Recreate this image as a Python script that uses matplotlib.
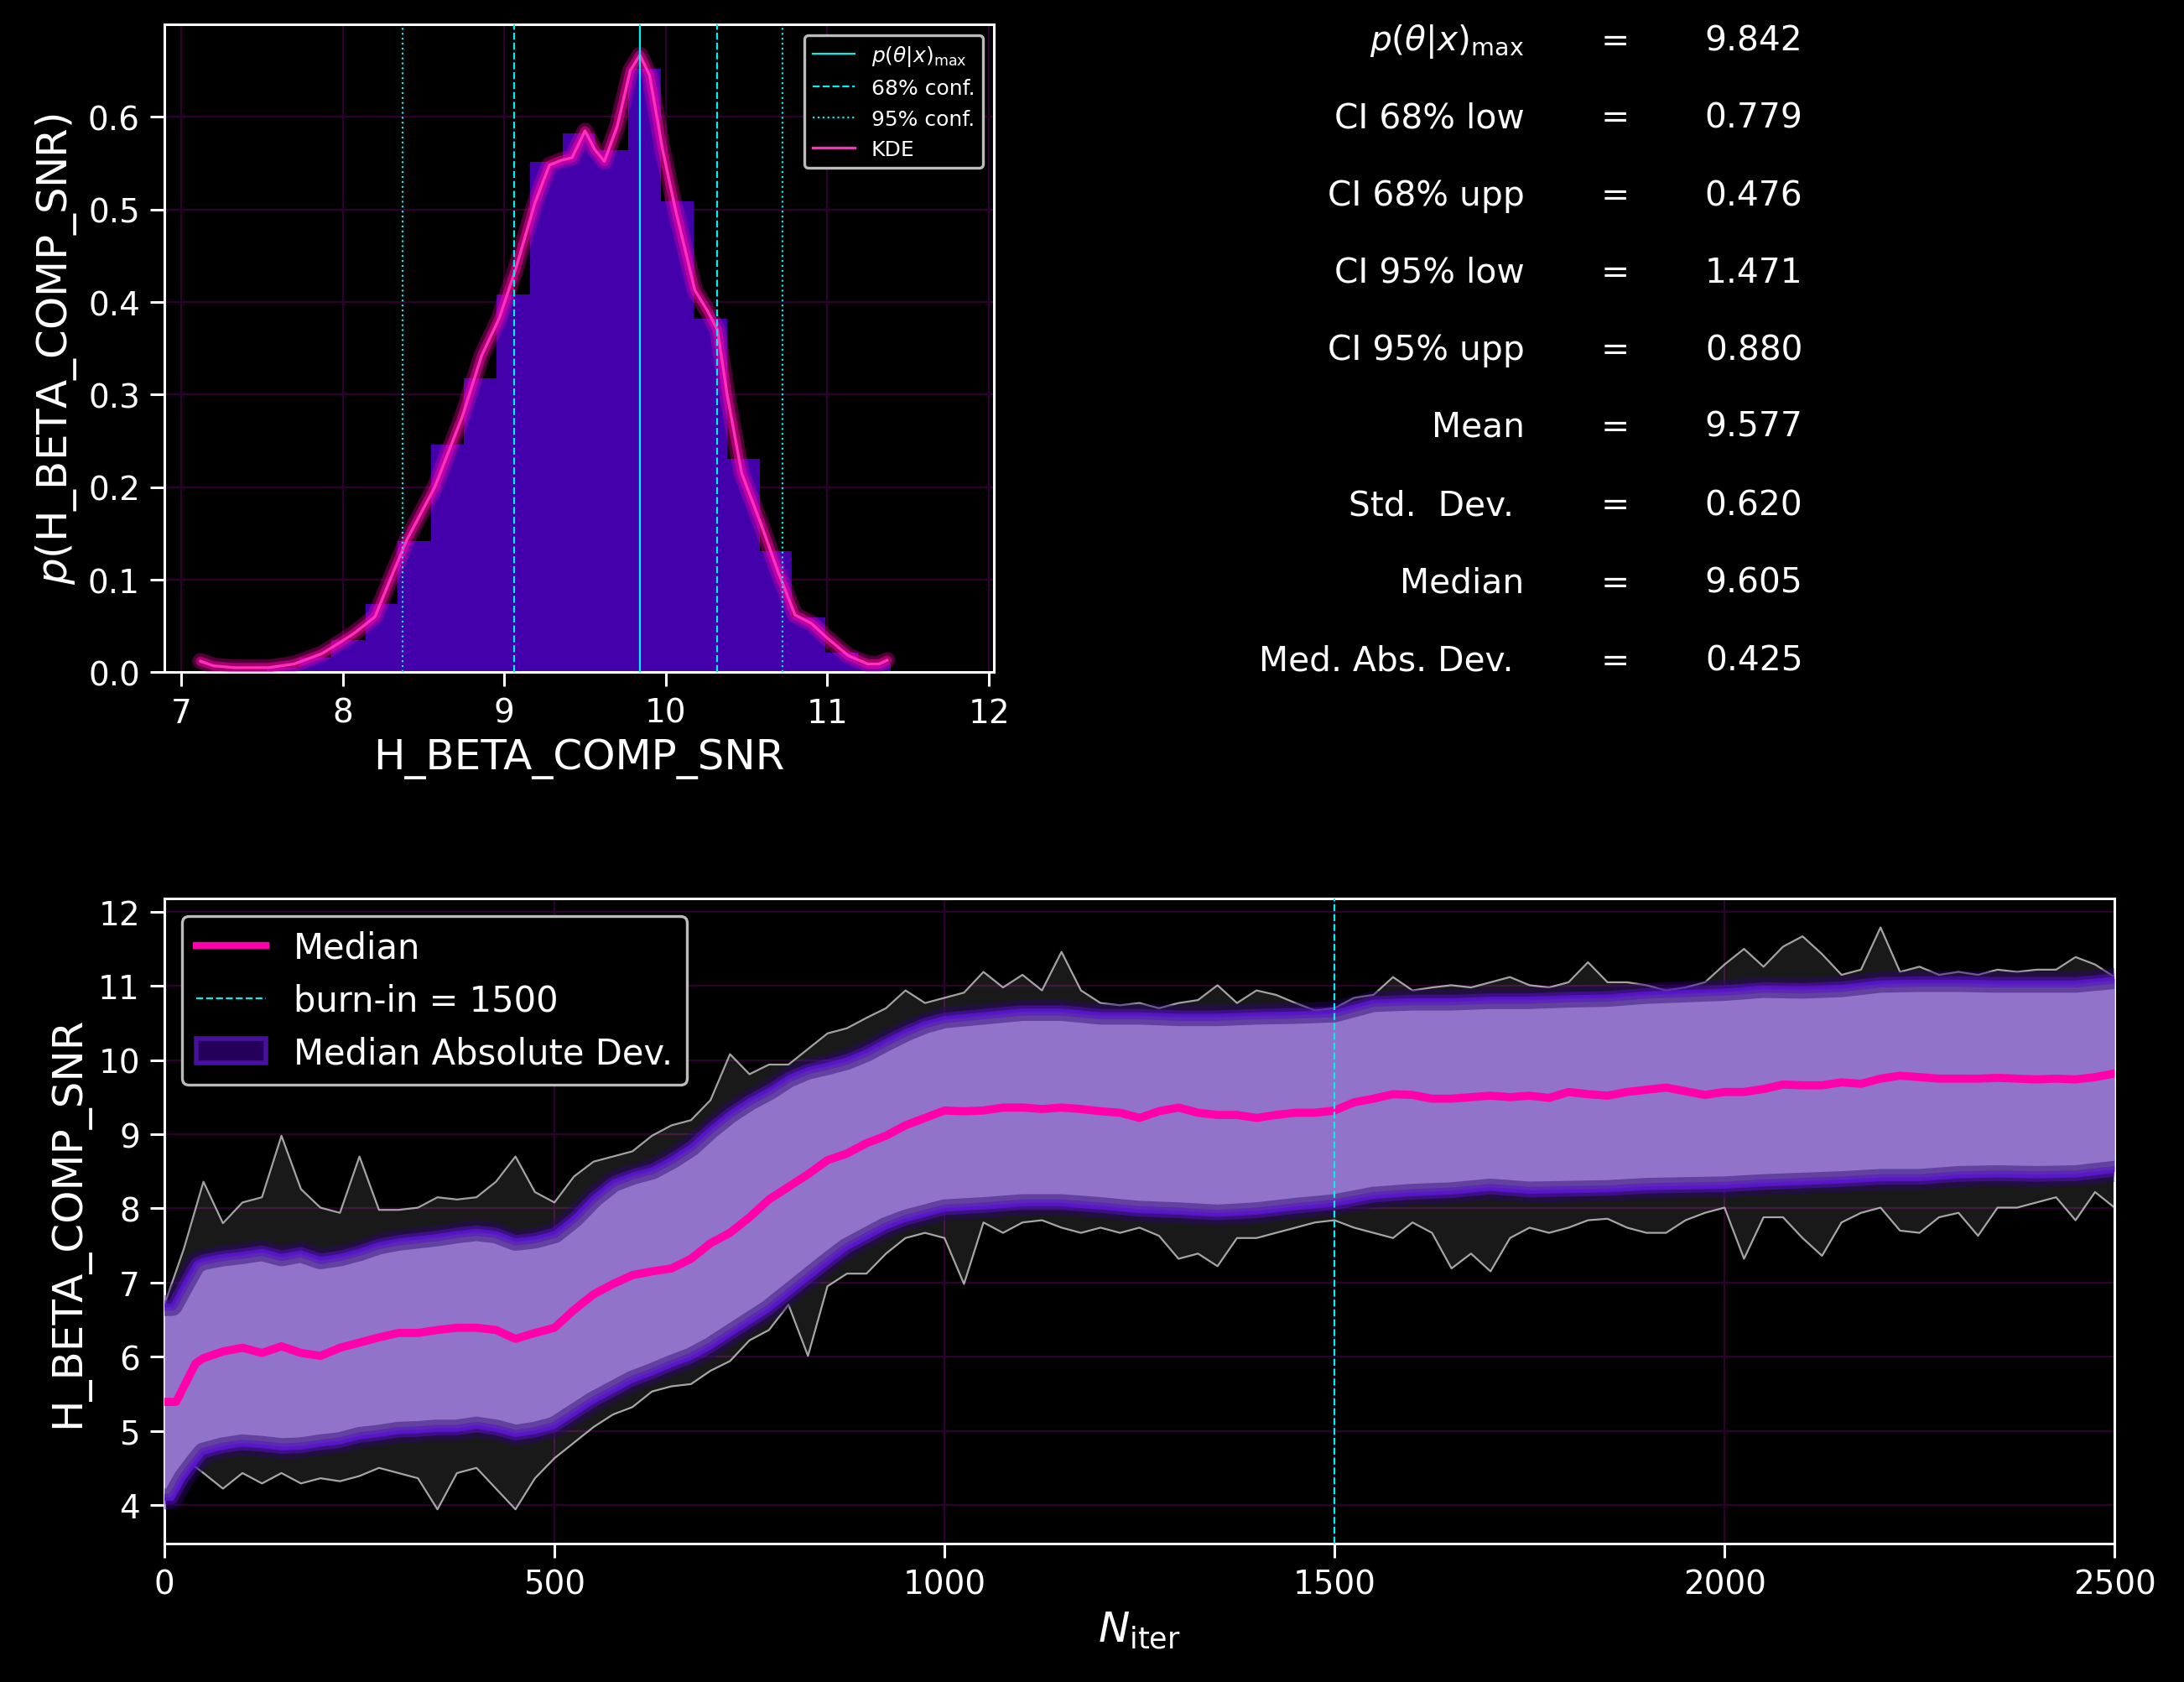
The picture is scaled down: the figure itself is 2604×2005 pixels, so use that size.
import matplotlib.pyplot as plt
from matplotlib.patches import Patch
from matplotlib.lines import Line2D

plt.style.use("dark_background")

param = "H_BETA_COMP_SNR"

# --- top panel: posterior histogram + KDE
hist_edges = [7.12, 7.32, 7.53, 7.73, 7.93, 8.14, 8.34, 8.55, 8.75, 8.95, 9.16, 9.36,
              9.56, 9.77, 9.97, 10.17, 10.38, 10.58, 10.78, 10.99, 11.19, 11.39, 11.60]
hist_heights = [0.001, 0.001, 0.005, 0.016, 0.035, 0.074, 0.142, 0.246, 0.318, 0.408, 0.551,
                0.582, 0.564, 0.652, 0.509, 0.382, 0.231, 0.131, 0.059, 0.021, 0.009, 0.001]

kde_x = [7.12, 7.20, 7.33, 7.54, 7.70, 7.87, 7.99, 8.07, 8.20, 8.32, 8.40, 8.57, 8.74, 8.86,
         8.97, 9.07, 9.19, 9.28, 9.35, 9.42, 9.50, 9.56, 9.62, 9.70, 9.78, 9.84, 9.90, 9.98,
         10.06, 10.18, 10.26, 10.32, 10.38, 10.47, 10.59, 10.69, 10.80, 10.90, 11.00, 11.13,
         11.25, 11.32, 11.37]
kde_y = [0.012, 0.007, 0.005, 0.005, 0.009, 0.020, 0.033, 0.042, 0.060, 0.111, 0.144, 0.200,
         0.276, 0.342, 0.383, 0.435, 0.507, 0.548, 0.553, 0.556, 0.585, 0.565, 0.552, 0.590,
         0.650, 0.667, 0.645, 0.565, 0.500, 0.413, 0.390, 0.370, 0.300, 0.215, 0.160, 0.111,
         0.062, 0.053, 0.037, 0.018, 0.009, 0.009, 0.013]

p_max = 9.842
ci68_low, ci68_upp = 0.779, 0.476
ci95_low, ci95_upp = 1.471, 0.880

stat_names = [r"$p(\theta|x)_{\rm max}$", "CI 68% low", "CI 68% upp", "CI 95% low",
              "CI 95% upp", "Mean", "Std.  Dev. ", "Median", "Med. Abs. Dev. "]
stat_values = [9.842, 0.779, 0.476, 1.471, 0.880, 9.577, 0.620, 9.605, 0.425]

# --- bottom panel: chain traces
burn_in = 1500
med_iter = [0, 15, 25, 40] + list(range(50, 2501, 25))
med_vals = [5.39, 5.39, 5.60, 5.91,
            5.98, 6.07, 6.12, 6.05, 6.14, 6.05, 6.01, 6.12, 6.19, 6.26,
            6.32, 6.32, 6.36, 6.39, 6.39, 6.36, 6.24, 6.32, 6.39, 6.63,
            6.84, 6.98, 7.10, 7.15, 7.19, 7.32, 7.53, 7.67, 7.88, 8.12,
            8.29, 8.46, 8.65, 8.74, 8.88, 8.98, 9.12, 9.22, 9.32, 9.31,
            9.32, 9.36, 9.36, 9.34, 9.36, 9.34, 9.31, 9.29, 9.22, 9.31,
            9.36, 9.29, 9.26, 9.26, 9.22, 9.26, 9.29, 9.29, 9.32, 9.43,
            9.48, 9.54, 9.53, 9.48, 9.48, 9.50, 9.52, 9.50, 9.52, 9.49,
            9.57, 9.54, 9.52, 9.57, 9.60, 9.63, 9.58, 9.53, 9.57, 9.57,
            9.61, 9.67, 9.66, 9.66, 9.70, 9.68, 9.75, 9.79, 9.77, 9.75,
            9.75, 9.75, 9.76, 9.75, 9.74, 9.75, 9.74, 9.77, 9.82]

band_iter = [0, 10, 25, 40] + list(range(50, 1001, 25)) + list(range(1050, 2501, 50))
band_upp = [6.69, 6.69, 6.98, 7.26,
            7.31, 7.36, 7.39, 7.43, 7.36, 7.41, 7.32, 7.36, 7.43, 7.52,
            7.57, 7.60, 7.63, 7.67, 7.70, 7.67, 7.57, 7.60, 7.67, 7.88,
            8.15, 8.36, 8.46, 8.53, 8.67, 8.84, 9.08, 9.29, 9.46, 9.60,
            9.77, 9.88, 9.94, 10.01, 10.12, 10.26, 10.39, 10.50, 10.57,
            10.62, 10.67, 10.67, 10.62, 10.62, 10.60, 10.60, 10.62, 10.63, 10.65,
            10.79, 10.81, 10.81, 10.83, 10.83, 10.85, 10.86, 10.90, 10.92, 10.94,
            10.98, 10.97, 10.99, 11.05, 11.06, 11.06, 11.05, 11.05, 11.05, 11.10]
band_low = [4.08, 4.08, 4.36, 4.57,
            4.70, 4.77, 4.81, 4.79, 4.76, 4.77, 4.81, 4.84, 4.91, 4.94,
            4.98, 4.99, 5.01, 5.01, 5.05, 5.01, 4.94, 4.98, 5.05, 5.22,
            5.39, 5.53, 5.67, 5.77, 5.88, 5.98, 6.12, 6.29, 6.46, 6.63,
            6.84, 7.05, 7.26, 7.46, 7.60, 7.74, 7.84, 7.91, 7.98,
            8.01, 8.05, 8.05, 8.01, 7.96, 7.94, 7.91, 7.94, 8.00, 8.05,
            8.15, 8.19, 8.21, 8.26, 8.22, 8.23, 8.24, 8.27, 8.28, 8.29,
            8.32, 8.34, 8.36, 8.39, 8.39, 8.43, 8.44, 8.43, 8.44, 8.50]

# outermost walkers
walk_iter = list(range(0, 2501, 25))
walk_upp = [6.70, 7.46, 8.36, 7.80, 8.08, 8.15, 8.98, 8.26, 8.01, 7.94,
            8.70, 7.98, 7.98, 8.01, 8.15, 8.12, 8.15, 8.36, 8.70, 8.22,
            8.08, 8.43, 8.63, 8.70, 8.77, 8.98, 9.12, 9.19, 9.46, 10.08,
            9.81, 9.94, 9.94, 10.15, 10.36, 10.43, 10.57, 10.70, 10.94, 10.77,
            10.84, 10.91, 11.19, 10.98, 11.15, 10.94, 11.46, 10.94, 10.77, 10.74,
            10.77, 10.70, 10.77, 10.81, 11.01, 10.77, 10.94, 10.88, 10.77, 10.67,
            10.70, 10.84, 10.88, 11.12, 10.94, 10.98, 11.01, 10.98, 11.05, 11.12,
            11.01, 10.98, 11.05, 11.32, 11.05, 11.05, 11.01, 10.94, 10.98, 11.05,
            11.29, 11.50, 11.26, 11.53, 11.67, 11.43, 11.15, 11.22, 11.79, 11.19,
            11.26, 11.15, 11.19, 11.15, 11.22, 11.19, 11.22, 11.22, 11.39, 11.29,
            11.12]
walk_low = [4.10, 4.63, 4.43, 4.22, 4.43, 4.29, 4.43, 4.29, 4.36, 4.32,
            4.39, 4.50, 4.43, 4.36, 3.94, 4.43, 4.50, 4.22, 3.94, 4.36,
            4.63, 4.84, 5.05, 5.22, 5.32, 5.53, 5.60, 5.63, 5.81, 5.94,
            6.22, 6.36, 6.70, 6.01, 6.95, 7.12, 7.12, 7.39, 7.60, 7.67,
            7.60, 6.98, 7.81, 7.67, 7.81, 7.84, 7.74, 7.67, 7.74, 7.67,
            7.74, 7.63, 7.32, 7.39, 7.22, 7.60, 7.60, 7.67, 7.74, 7.81,
            7.84, 7.74, 7.67, 7.60, 7.81, 7.67, 7.19, 7.39, 7.15, 7.60,
            7.74, 7.67, 7.74, 7.84, 7.86, 7.74, 7.67, 7.67, 7.84, 7.94,
            8.01, 7.32, 7.88, 7.88, 7.60, 7.36, 7.81, 7.94, 8.01, 7.70,
            7.67, 7.88, 7.94, 7.63, 8.01, 8.01, 8.08, 8.15, 7.84, 8.22,
            8.01]

pink = "#ff00aa"
cyan = "#00f0f0"
violet = "#4400aa"
gridc = "#2e002e"

fig = plt.figure(figsize=(13.02, 10.03), dpi=200)

# ---------------- histogram
ax1 = fig.add_axes([0.0753, 0.600, 0.3797, 0.385])
ax1.stairs(hist_heights, hist_edges, fill=True, color=violet, zorder=2)
for lw, a in [(7.0, 0.3), (4.0, 0.5)]:
    ax1.plot(kde_x, kde_y, color=pink, lw=lw, alpha=a, solid_capstyle="round",
             solid_joinstyle="round", zorder=3)
ax1.plot(kde_x, kde_y, color="#ff30bb", lw=1.2, label="KDE", zorder=4)
ax1.axvline(p_max, color=cyan, lw=0.8, ls="-", label=r"$p(\theta|x)_{\rm max}$", zorder=5)
ax1.axvline(p_max - ci68_low, color=cyan, lw=0.8, ls="--", label="68% conf.", zorder=5)
ax1.axvline(p_max + ci68_upp, color=cyan, lw=0.8, ls="--", zorder=5)
ax1.axvline(p_max - ci95_low, color=cyan, lw=0.8, ls=":", label="95% conf.", zorder=5)
ax1.axvline(p_max + ci95_upp, color=cyan, lw=0.8, ls=":", zorder=5)
ax1.set_xlim(6.897, 12.03)
ax1.set_ylim(0, 0.70)
ax1.set_xticks([7, 8, 9, 10, 11, 12])
ax1.set_yticks([0.0, 0.1, 0.2, 0.3, 0.4, 0.5, 0.6])
ax1.set_xlabel(param, fontsize=18)
ax1.set_ylabel(r"$p$(" + param + ")", fontsize=18)
h, l = ax1.get_legend_handles_labels()
order = [1, 2, 3, 0]
leg1 = ax1.legend([h[i] for i in order], [l[i] for i in order], loc="upper right",
                  fontsize=9, facecolor="black", edgecolor="#bbbbbb", framealpha=1)
leg1.get_frame().set_linewidth(1.2)

# ---------------- summary table
row_y = [0.9752, 0.9296, 0.8832, 0.8377, 0.7914, 0.7459, 0.6994, 0.6531, 0.6067]
for name, val, y in zip(stat_names, stat_values, row_y):
    fig.text(0.698, y, name, ha="right", va="center", fontsize=14.7)
    fig.text(0.7397, y, "=", ha="center", va="center", fontsize=14.7)
    fig.text(0.8255, y, f"{val:.3f}", ha="right", va="center", fontsize=14.7)

# ---------------- traces
ax2 = fig.add_axes([0.0753, 0.0823, 0.8929, 0.3833])
ax2.fill_between(walk_iter, walk_low, walk_upp, color="white", alpha=0.1, lw=0, zorder=2)
ax2.plot(walk_iter, walk_upp, color="#d8d8d8", lw=0.8, alpha=0.75, zorder=3)
ax2.plot(walk_iter, walk_low, color="#d8d8d8", lw=0.8, alpha=0.75, zorder=3)
ax2.fill_between(band_iter, band_low, band_upp, color="#9173c9", lw=0, zorder=4)
for lw, a, c in [(9, 0.45, "#2c0470"), (4.5, 0.5, "#5412c4"), (1.6, 0.9, "#5a16cc")]:
    ax2.plot(band_iter, band_upp, color=c, lw=lw, alpha=a, zorder=5)
    ax2.plot(band_iter, band_low, color=c, lw=lw, alpha=a, zorder=5)
ax2.plot(med_iter, med_vals, color=pink, lw=3.5, zorder=6)
ax2.axvline(burn_in, color=cyan, lw=0.8, ls="--", zorder=7)
ax2.set_xlim(0, 2500)
ax2.set_ylim(3.48, 12.18)
ax2.set_xticks([0, 500, 1000, 1500, 2000, 2500])
ax2.set_yticks([4, 5, 6, 7, 8, 9, 10, 11, 12])
ax2.set_xlabel(r"$N_{\rm iter}$", fontsize=18)
ax2.set_ylabel(param, fontsize=18)
handles = [Line2D([], [], color=pink, lw=3),
           Line2D([], [], color=cyan, lw=0.8, ls="--"),
           Patch(facecolor="#24005a", edgecolor="#48109e", lw=2)]
leg2 = ax2.legend(handles, ["Median", "burn-in = %d" % burn_in, "Median Absolute Dev."],
                  loc="upper left", fontsize=15, facecolor="black", edgecolor="#bbbbbb",
                  framealpha=1)
leg2.get_frame().set_linewidth(1.2)

for ax in (ax1, ax2):
    ax.grid(True, color=gridc, lw=0.8, zorder=0)
    ax.set_axisbelow(True)
    ax.tick_params(labelsize=14, length=6, width=1.1, pad=4.5)
    for s in ax.spines.values():
        s.set_linewidth(1.1)

fig.savefig("out.png", dpi=200, facecolor="black")
